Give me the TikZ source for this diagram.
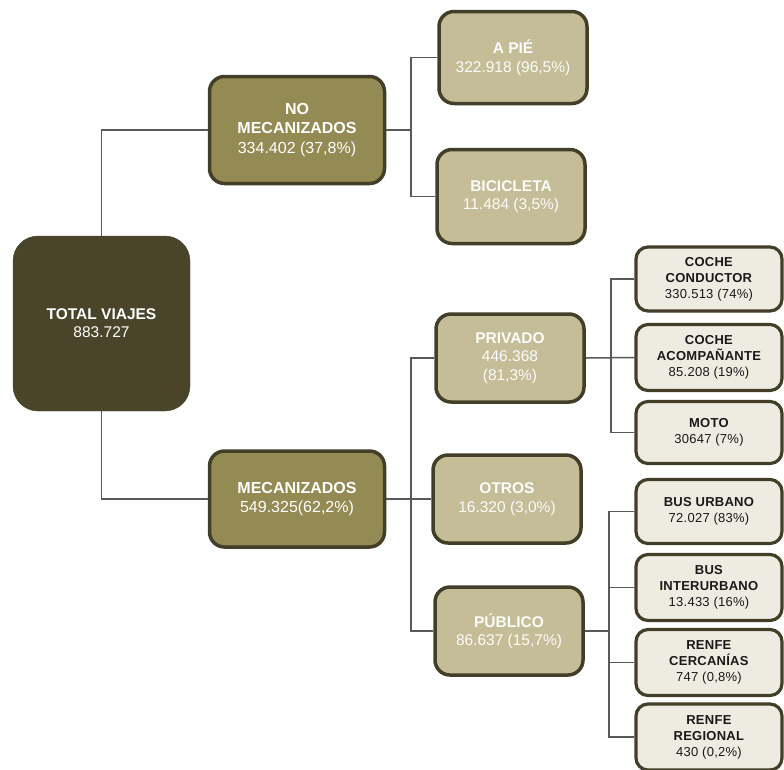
\documentclass[tikz,border=0pt]{standalone}
\usepackage{fontspec}
\setmainfont{Liberation Sans}
\newfontfamily\spacedfont[LetterSpace=2]{Liberation Sans}
\usepackage{tikz}
\definecolor{tanA}{HTML}{4A452A}
\definecolor{tanB}{HTML}{948A54}
\definecolor{tanC}{HTML}{C4BD97}
\definecolor{tanD}{HTML}{EEECE1}
\definecolor{edge}{HTML}{423E27}
\definecolor{wire}{HTML}{595959}
\tikzset{lvlone/.style={fill=tanA, draw=tanA, rounded corners=25pt, text=white,
    font=\fontsize{15.5}{18}\selectfont, align=center, inner sep=0pt,
    minimum width=177pt, minimum height=175pt},
  lvltwo/.style={fill=tanB, draw=edge, line width=3.5pt, rounded corners=15pt,
    text=white, font=\fontsize{16}{19.5}\selectfont, align=center, inner sep=0pt,
    minimum width=175pt, minimum height=96pt},
  lvlthree/.style={lvltwo, fill=tanC, text=white!95!tanC, minimum width=148pt,
    minimum height=88pt, font=\fontsize{15.5}{18.5}\selectfont},
  lvlfour/.style={fill=tanD, draw=edge, line width=3.2pt, rounded corners=12pt,
    text=black!90, font=\spacedfont\fontsize{13}{16}\selectfont, align=center, inner sep=0pt,
    minimum width=146pt, minimum height=64pt},
  wire/.style={draw=wire, line width=1.5pt}}

\begin{document}
\begin{tikzpicture}[x=1pt, y=-1pt]
    \useasboundingbox (0,0) rectangle (784,769);
    \node[lvlone] (total) at (101.5,323.5) {\textbf{TOTAL VIAJES}\\883.727};
    \node[lvltwo, minimum height=107pt] (nomec) at (297,130) {\textbf{NO}\\\textbf{MECANIZADOS}\\334.402 (37,8\%)};
    \node[lvltwo] (mec) at (297,499) {\textbf{MECANIZADOS}\\549.325(62,2\%)};
    \node[lvlthree, minimum height=92pt] (apie) at (513,57.5) {\textbf{A PIÉ}\\322.918 (96,5\%)};
    \node[lvlthree, minimum height=94pt] (bici) at (511,196.5) {\textbf{BICICLETA}\\11.484 (3,5\%)};
    \node[lvlthree] (priv) at (510,358) {\textbf{PRIVADO}\\446.368\\(81,3\%)};
    \node[lvlthree] (otros) at (507,499) {\textbf{OTROS}\\16.320 (3,0\%)};
    \node[lvlthree] (publ) at (509,631) {\textbf{PÚBLICO}\\86.637 (15,7\%)};
    \node[lvlfour] (cond) at (709,279) {\textbf{COCHE}\\\textbf{CONDUCTOR}\\330.513 (74\%)};
    \node[lvlfour, minimum height=66pt] (acom) at (709,357.5) {\textbf{COCHE}\\\textbf{ACOMPAÑANTE}\\85.208 (19\%)};
    \node[lvlfour, minimum height=62pt] (moto) at (709,432.5) {\textbf{MOTO}\\30647 (7\%)};
    \node[lvlfour] (burb) at (709,511.5) {\textbf{BUS URBANO}\\72.027 (83\%)};
    \node[lvlfour, minimum height=66pt] (binter) at (709,587.5) {\textbf{BUS}\\\textbf{INTERURBANO}\\13.433 (16\%)};
    \node[lvlfour, minimum height=66pt] (cerc) at (709,662.5) {\textbf{RENFE}\\\textbf{CERCANÍAS}\\747 (0,8\%)};
    \node[lvlfour, minimum height=66pt] (regi) at (709,737) {\textbf{RENFE}\\\textbf{REGIONAL}\\430 (0,2\%)};
    \coordinate (jnomec) at (411,130);
    \coordinate (jmec) at (411,499);
    \coordinate (jpriv) at (611,358);
    \coordinate (jpubl) at (609,631);
    \draw[wire] (total.north) |- (nomec.west);
    \draw[wire] (total.south) |- (mec.west);
    \draw[wire] (nomec.east) -- (jnomec) |- (apie.west);
    \draw[wire] (jnomec) |- (bici.west);
    \draw[wire] (mec.east) -- (otros.west);
    \draw[wire] (jmec) |- (priv.west);
    \draw[wire] (jmec) |- (publ.west);
    \draw[wire] (priv.east) -- (acom.west);
    \draw[wire] (jpriv) |- (cond.west);
    \draw[wire] (jpriv) |- (moto.west);
    \draw[wire] (publ.east) -- (jpubl) |- (burb.west);
    \draw[wire] (jpubl) |- (binter.west);
    \draw[wire] (jpubl) |- (cerc.west);
    \draw[wire] (jpubl) |- (regi.west);
  \end{tikzpicture}
\end{document}
